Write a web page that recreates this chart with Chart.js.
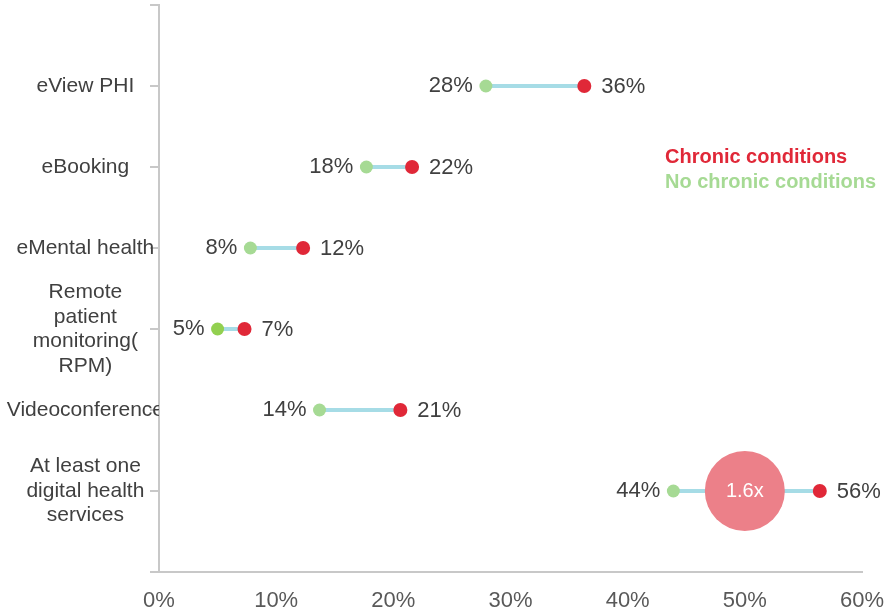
<!DOCTYPE html>
<html>
<head>
<meta charset="utf-8">
<script src="https://cdn.jsdelivr.net/npm/chart.js@4"></script>
<style>
html,body{margin:0;padding:0;background:#fff;}
#wrap{width:892px;height:613px;position:relative;}
</style>
</head>
<body>
<div id="wrap"><canvas id="c" width="892" height="613"></canvas></div>
<script>
// ---- data (top to bottom) ----
const categories = [
  ['eView PHI'],
  ['eBooking'],
  ['eMental health'],
  ['Remote', 'patient', 'monitoring(', 'RPM)'],
  ['Videoconference'],
  ['At least one', 'digital health', 'services']
];
const noChronic = [27.9, 17.7, 7.8, 5.0, 13.7, 43.9];
const chronic   = [36.3, 21.6, 12.3, 7.3, 20.6, 56.4];
const xTicks = [0, 10, 20, 30, 40, 50, 60];
const ratioX = 50;
const ratioLabel = '1.6x';
const legendLabels = ['Chronic conditions', 'No chronic conditions'];

const RED = 'rgb(224,40,56)';
const GREEN = 'rgb(166,218,148)';
const GREEN_RPM = 'rgb(146,208,80)';
const LINE = 'rgb(166,220,230)';
const BUBBLE = 'rgb(236,128,137)';
const FONT = '"Liberation Sans", Arial, sans-serif';

const n = categories.length;
const posOf = i => n - i;

const connectorSets = noChronic.map((g, i) => ({
  type: 'scatter',
  showLine: true,
  data: [{x: g, y: posOf(i)}, {x: chronic[i], y: posOf(i)}],
  borderColor: LINE,
  borderWidth: 4,
  pointRadius: 0,
  order: 3
}));

const datasets = [
  {
    label: legendLabels[0],
    data: chronic.map((v, i) => ({x: v, y: posOf(i)})),
    backgroundColor: RED, borderColor: RED,
    pointRadius: 7, pointBorderWidth: 0, order: 0
  },
  {
    label: legendLabels[1],
    data: noChronic.map((v, i) => ({x: v, y: posOf(i)})),
    backgroundColor: noChronic.map((v, i) => i === 3 ? GREEN_RPM : GREEN),
    borderColor: noChronic.map((v, i) => i === 3 ? GREEN_RPM : GREEN),
    pointRadius: 6.5, pointBorderWidth: 0, order: 1
  },
  {
    type: 'bubble',
    label: 'ratio',
    data: [{x: ratioX, y: posOf(n - 1), r: 40}],
    backgroundColor: BUBBLE, borderWidth: 0, order: 2
  },
  ...connectorSets
];

const labelsPlugin = {
  id: 'dumbbellLabels',
  afterDatasetsDraw(chart) {
    const ctx = chart.ctx;
    const xs = chart.scales.x, ys = chart.scales.y;
    ctx.save();
    ctx.font = '22px ' + FONT;
    ctx.fillStyle = '#404040';
    ctx.textBaseline = 'middle';
    for (let i = 0; i < n; i++) {
      const y = ys.getPixelForValue(posOf(i));
      ctx.textAlign = 'right';
      ctx.fillText(Math.round(noChronic[i]) + '%', xs.getPixelForValue(noChronic[i]) - 13, y);
      ctx.textAlign = 'left';
      ctx.fillText(Math.round(chronic[i]) + '%', xs.getPixelForValue(chronic[i]) + 17, y + 1);
    }
    // bubble text
    ctx.font = '20px ' + FONT;
    ctx.fillStyle = '#ffffff';
    ctx.textAlign = 'center';
    ctx.fillText(ratioLabel, xs.getPixelForValue(ratioX), ys.getPixelForValue(posOf(n - 1)));
    // legend text
    ctx.font = 'bold 20px ' + FONT;
    ctx.textAlign = 'left';
    ctx.fillStyle = RED;
    ctx.fillText(legendLabels[0], 665, 157);
    ctx.fillStyle = GREEN;
    ctx.fillText(legendLabels[1], 665, 182);
    ctx.restore();
  }
};

new Chart(document.getElementById('c'), {
  type: 'scatter',
  data: {datasets},
  plugins: [labelsPlugin],
  options: {
    responsive: false,
    animation: false,
    layout: {autoPadding: false, padding: {top: 5, right: 30, left: 0, bottom: 0}},
    plugins: {legend: {display: false}, tooltip: {enabled: false}, title: {display: false}},
    scales: {
      x: {
        type: 'linear', min: xTicks[0], max: xTicks[xTicks.length - 1],
        afterBuildTicks: s => { s.ticks = xTicks.map(v => ({value: v})); },
        afterFit: s => { s.height = 41; s.paddingLeft = 0; s.paddingRight = 0; },
        grid: {drawOnChartArea: false, drawTicks: false},
        border: {display: true, color: '#c8c8c8', width: 2},
        ticks: {
          padding: 16, color: '#595959', font: {family: FONT, size: 22},
          callback: v => v + '%', maxRotation: 0, autoSkip: false
        }
      },
      y: {
        type: 'linear', min: 0, max: n + 1,
        afterBuildTicks: s => { const t = []; for (let v = 0; v <= n + 1; v++) t.push({value: v}); s.ticks = t; },
        afterFit: s => { s.width = 159; s.paddingTop = 0; s.paddingBottom = 0; },
        grid: {drawOnChartArea: false, drawTicks: true, tickLength: 9, color: '#c8c8c8', lineWidth: 2},
        border: {display: true, color: '#c8c8c8', width: 2},
        ticks: {
          crossAlign: 'center', padding: -14, color: '#404040', autoSkip: false,
          font: {family: FONT, size: 21, lineHeight: 1.17},
          callback: v => { const i = n - v; return (i >= 0 && i < n) ? categories[i] : ''; }
        }
      }
    }
  }
});
</script>
</body>
</html>
